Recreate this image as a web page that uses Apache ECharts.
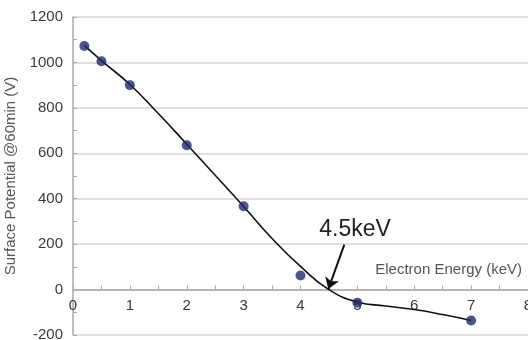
<!DOCTYPE html>
<html>
<head>
<meta charset="utf-8">
<script src="https://cdn.jsdelivr.net/npm/echarts@6/dist/echarts.min.js"></script>
<style>html,body{margin:0;padding:0;background:#fff}#c{width:528px;height:340px}</style>
</head>
<body>
<div id="c"></div>
<script>
// Measured points
const energy = [0.2, 0.5, 1, 2, 3, 4, 5, 7];
const potential = [1072, 1005, 900, 635, 367, 62, -58, -136];
// Fitted curve
const fitEnergy = [0.2, 0.5, 1, 1.5, 2, 2.5, 3, 3.5, 4, 4.5, 5, 5.5, 6, 6.5, 7];
const fitPotential = [1075, 1008, 903, 775, 640, 503, 366, 225, 102, 0, -55, -72, -88, -110, -136];
// Annotation
const annoText = '4.5keV';
const arrowFrom = [4.77, 198];
const arrowTo = [4.49, 2];
const annoPos = [4.96, 262];
const xName = 'Electron Energy (keV)';
const yName = 'Surface Potential @60min (V)';

const FONT = '"Liberation Sans", Arial, sans-serif';
const chart = echarts.init(document.getElementById('c'), null, {renderer: 'canvas'});
chart.setOption({
  animation: false,
  grid: {left: 73, right: 0, top: 17, bottom: 5, containLabel: false, outerBoundsMode: 'none'},
  xAxis: {
    type: 'value', min: 0, max: 8, interval: 1,
    axisLine: {onZero: true, lineStyle: {color: '#a8a8a8', width: 1.5}},
    axisTick: {show: true, inside: true, length: 4, lineStyle: {color: '#a8a8a8'}},
    minorTick: {show: true, splitNumber: 2, length: 4, lineStyle: {color: '#a8a8a8'}},
    axisLabel: {color: '#3a3a3a', fontSize: 15, fontFamily: FONT, margin: -37, showMaxLabel: true,
      formatter: v => String(v)},
    splitLine: {show: false}
  },
  yAxis: {
    type: 'value', min: -200, max: 1200, interval: 200,
    axisLine: {show: true, onZero: false, lineStyle: {color: '#a8a8a8', width: 1.5}},
    axisTick: {show: true, inside: true, length: 4, lineStyle: {color: '#a8a8a8'}},
    minorTick: {show: true, splitNumber: 2, length: 4, lineStyle: {color: '#a8a8a8'}},
    axisLabel: {color: '#3a3a3a', fontSize: 15, fontFamily: FONT, margin: 10, formatter: v => String(v)},
    splitLine: {show: true, lineStyle: {color: '#d4d4d4', width: 1.5}},
    name: yName, nameLocation: 'middle', nameGap: 46,
    nameTextStyle: {color: '#555', fontSize: 15, fontFamily: FONT}
  },
  graphic: [{
    type: 'text', right: 6, top: 262,
    style: {text: xName, fill: '#555', font: '15px ' + FONT}
  }],
  series: [
    {
      type: 'line', data: fitEnergy.map((x, i) => [x, fitPotential[i]]),
      smooth: true, showSymbol: false, symbol: 'none',
      lineStyle: {color: '#111', width: 1.6}, z: 3,
      markLine: {
        silent: true, symbol: ['none', 'arrow'], symbolSize: 11,
        lineStyle: {color: '#111', width: 2, type: 'solid'},
        label: {show: false},
        data: [[{coord: arrowFrom}, {coord: arrowTo}]]
      },
      markPoint: {
        silent: true, symbol: 'circle', symbolSize: 0,
        label: {show: true, formatter: annoText, color: '#222', fontSize: 23, fontFamily: FONT},
        data: [{coord: annoPos}]
      }
    },
    {
      type: 'scatter', data: energy.map((x, i) => [x, potential[i]]),
      symbol: 'circle', symbolSize: 10,
      itemStyle: {color: '#20296a'}, z: 4
    }
  ]
});
</script>
</body>
</html>
